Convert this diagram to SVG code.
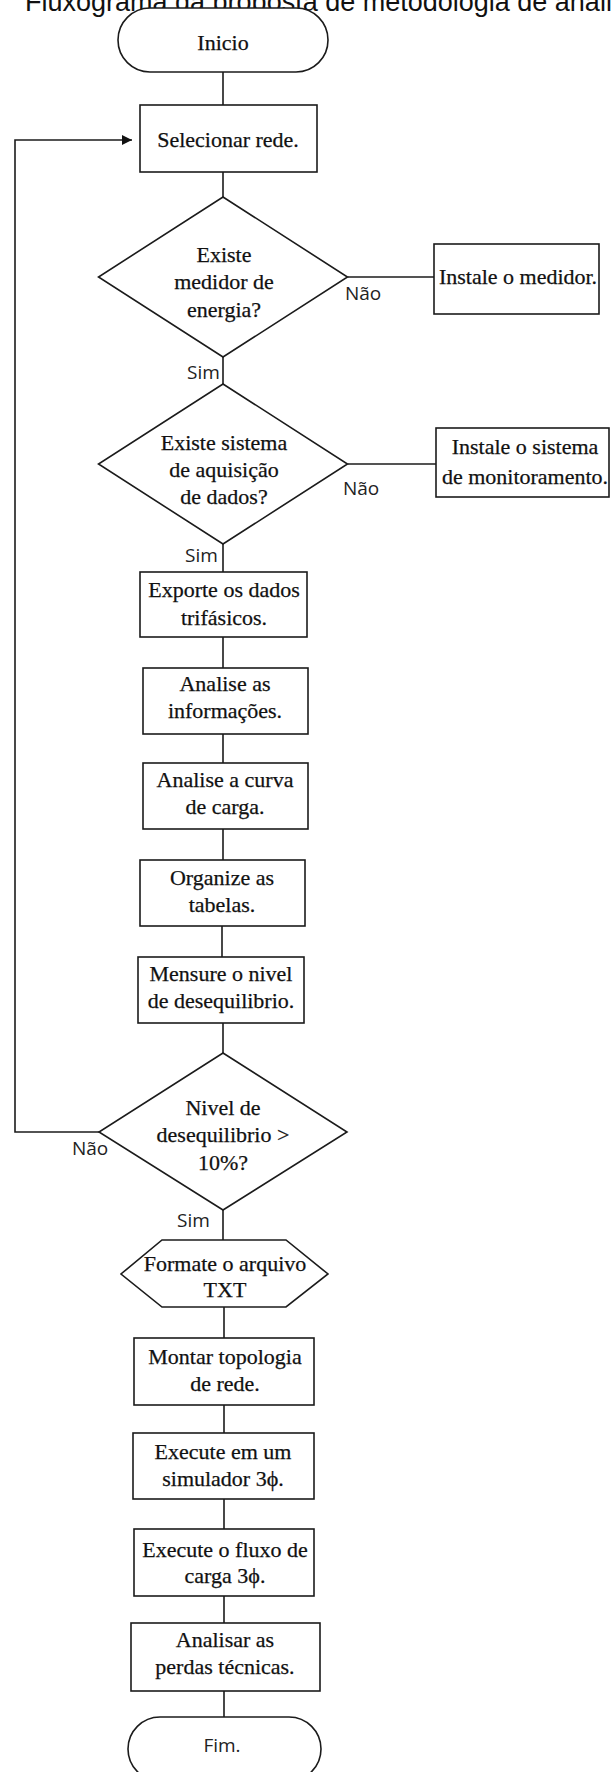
<svg xmlns="http://www.w3.org/2000/svg" width="611" height="1772" viewBox="0 0 611 1772">
  <style>
    .shape { fill: #ffffff; stroke: #1b1b1b; stroke-width: 1.6; }
    .txt { font-family: "Liberation Serif", "Times New Roman", serif; font-size: 22px; text-anchor: middle; fill: #111111; stroke: #111111; stroke-width: 0.25; }
    .lbl { font-family: "Open Sans", "Noto Sans", sans-serif; font-size: 19px; fill: #222222; }
    .title { font-family: "Liberation Sans", Arial, sans-serif; font-size: 27px; fill: #111111; }
    .wire { fill: none; stroke: #1b1b1b; stroke-width: 1.6; }
  </style>
  <defs>
    <marker id="arrow" viewBox="0 0 10 10" refX="10" refY="5" markerWidth="10" markerHeight="10" markerUnits="userSpaceOnUse" orient="auto">
      <path d="M0,0 L10,5 L0,10 Z" fill="#111111"/>
    </marker>
  </defs>
  <rect width="611" height="1772" fill="#ffffff"/>

  <text class="title" x="25" y="11">Fluxograma da proposta de metodologia de análise</text>

  <!-- connectors -->
  <g id="connectors">
    <line class="wire" x1="223" y1="72" x2="223" y2="105"/>
    <line class="wire" x1="223" y1="172" x2="223" y2="197"/>
    <line class="wire" x1="223" y1="357" x2="223" y2="384"/>
    <line class="wire" x1="347.5" y1="277" x2="434" y2="277"/>
    <line class="wire" x1="347.5" y1="464" x2="436" y2="464"/>
    <line class="wire" x1="223" y1="544" x2="223" y2="572"/>
    <line class="wire" x1="223" y1="637" x2="223" y2="668"/>
    <line class="wire" x1="223" y1="734" x2="223" y2="763"/>
    <line class="wire" x1="223" y1="829" x2="223" y2="860"/>
    <line class="wire" x1="222" y1="926" x2="222" y2="957"/>
    <line class="wire" x1="223" y1="1023" x2="223" y2="1053"/>
    <line class="wire" x1="223" y1="1210" x2="223" y2="1240"/>
    <line class="wire" x1="224" y1="1307" x2="224" y2="1338"/>
    <line class="wire" x1="224" y1="1405" x2="224" y2="1433"/>
    <line class="wire" x1="224" y1="1499" x2="224" y2="1529"/>
    <line class="wire" x1="224" y1="1596" x2="224" y2="1623"/>
    <line class="wire" x1="224" y1="1691" x2="224" y2="1717"/>
    <polyline class="wire" points="99,1132 15,1132 15,140 132,140" marker-end="url(#arrow)"/>
    <text class="lbl" x="187" y="379">Sim</text>
    <text class="lbl" x="345" y="300">Não</text>
    <text class="lbl" x="185" y="562">Sim</text>
    <text class="lbl" x="343" y="495">Não</text>
    <text class="lbl" x="72" y="1155">Não</text>
    <text class="lbl" x="177" y="1227">Sim</text>
  </g>

  <g id="inicio">
    <rect class="shape" x="118" y="8" width="210" height="64" rx="32" ry="32"/>
    <text class="txt" x="223" y="50">Inicio</text>
  </g>

  <g id="selecionar-rede">
    <rect class="shape" x="140" y="105" width="177" height="67"/>
    <text class="txt" x="228" y="147">Selecionar rede.</text>
  </g>

  <g id="existe-medidor">
    <polygon class="shape" points="223,197 347.5,277 223,357 98.5,277"/>
    <text class="txt" x="224" y="262">Existe</text>
    <text class="txt" x="224" y="289">medidor de</text>
    <text class="txt" x="224" y="317">energia?</text>
  </g>

  <g id="instale-medidor">
    <rect class="shape" x="434" y="244" width="165" height="70"/>
    <text class="txt" x="518" y="284">Instale o medidor.</text>
  </g>

  <g id="existe-sistema">
    <polygon class="shape" points="223,384 347.5,464 223,544 98.5,464"/>
    <text class="txt" x="224" y="450">Existe sistema</text>
    <text class="txt" x="224" y="477">de aquisição</text>
    <text class="txt" x="224" y="504">de dados?</text>
  </g>

  <g id="instale-sistema">
    <rect class="shape" x="436" y="428" width="173" height="69"/>
    <text class="txt" x="525" y="454">Instale o sistema</text>
    <text class="txt" x="525" y="484">de monitoramento.</text>
  </g>

  <g id="exporte-dados">
    <rect class="shape" x="140" y="572" width="167" height="65"/>
    <text class="txt" x="224" y="597">Exporte os dados</text>
    <text class="txt" x="224" y="625">trifásicos.</text>
  </g>

  <g id="analise-informacoes">
    <rect class="shape" x="143" y="668" width="165" height="66"/>
    <text class="txt" x="225" y="691">Analise as</text>
    <text class="txt" x="225" y="718">informações.</text>
  </g>

  <g id="analise-curva">
    <rect class="shape" x="143" y="763" width="165" height="66"/>
    <text class="txt" x="225" y="787">Analise a curva</text>
    <text class="txt" x="225" y="814">de carga.</text>
  </g>

  <g id="organize-tabelas">
    <rect class="shape" x="140" y="860" width="165" height="66"/>
    <text class="txt" x="222" y="885">Organize as</text>
    <text class="txt" x="222" y="912">tabelas.</text>
  </g>

  <g id="mensure-nivel">
    <rect class="shape" x="138" y="957" width="166" height="66"/>
    <text class="txt" x="221" y="981">Mensure o nivel</text>
    <text class="txt" x="221" y="1008">de desequilibrio.</text>
  </g>

  <g id="nivel-desequilibrio">
    <polygon class="shape" points="223,1053 347,1132 223,1210 99,1132"/>
    <text class="txt" x="223" y="1115">Nivel de</text>
    <text class="txt" x="223" y="1142">desequilibrio &gt;</text>
    <text class="txt" x="223" y="1170">10%?</text>
  </g>

  <g id="formate-arquivo">
    <polygon class="shape" points="162,1240 286,1240 328,1274 286,1307 162,1307 121,1274"/>
    <text class="txt" x="225" y="1271">Formate o arquivo</text>
    <text class="txt" x="225" y="1297">TXT</text>
  </g>

  <g id="montar-topologia">
    <rect class="shape" x="134" y="1338" width="180" height="67"/>
    <text class="txt" x="225" y="1364">Montar topologia</text>
    <text class="txt" x="225" y="1391">de rede.</text>
  </g>

  <g id="execute-simulador">
    <rect class="shape" x="133" y="1433" width="181" height="66"/>
    <text class="txt" x="223" y="1459">Execute em um</text>
    <text class="txt" x="223" y="1486">simulador 3ϕ.</text>
  </g>

  <g id="execute-fluxo">
    <rect class="shape" x="134" y="1529" width="180" height="67"/>
    <text class="txt" x="225" y="1557">Execute o fluxo de</text>
    <text class="txt" x="225" y="1583">carga 3ϕ.</text>
  </g>

  <g id="analisar-perdas">
    <rect class="shape" x="131" y="1623" width="189" height="68"/>
    <text class="txt" x="225" y="1647">Analisar as</text>
    <text class="txt" x="225" y="1674">perdas técnicas.</text>
  </g>

  <g id="fim">
    <rect class="shape" x="128" y="1717" width="193" height="64" rx="32" ry="32"/>
    <text class="lbl" x="222" y="1752" text-anchor="middle">Fim.</text>
  </g>
</svg>
